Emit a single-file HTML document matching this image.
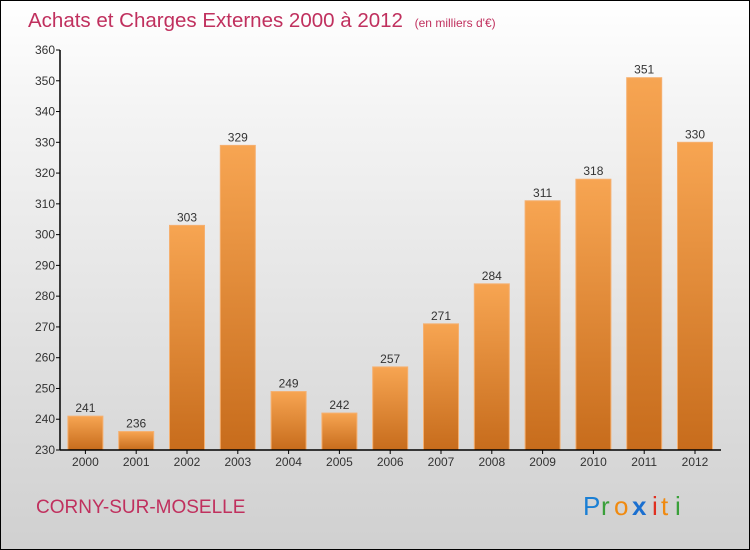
<!DOCTYPE html>
<html><head><meta charset="utf-8"><style>
html,body{margin:0;padding:0}
body{width:750px;height:550px;overflow:hidden;font-family:"Liberation Sans",sans-serif}
#frame{position:absolute;left:0;top:0;width:748px;height:548px;border:1px solid #000;background:linear-gradient(#ffffff,#f4f4f4 20%,#d0d0d0)}
</style></head><body>
<div id="frame">
<svg width="750" height="550" style="position:absolute;left:-1px;top:-1px" id="chart">
<defs><linearGradient id="bg" x1="0" y1="0" x2="0" y2="1"><stop offset="0" stop-color="#f7a552"/><stop offset="1" stop-color="#c76c1c"/></linearGradient></defs>
<text x="28" y="27" font-size="20.5" fill="#c0305e">Achats et Charges Externes 2000 à 2012 <tspan font-size="12" dx="6">(en milliers d'€)</tspan></text>
<text x="36" y="513" font-size="19" fill="#c0305e">CORNY-SUR-MOSELLE</text>
<g font-size="26">
<text x="583" y="515" fill="#1a7fd4">P</text><text x="601" y="515" fill="#3aa03a">r</text><text x="614" y="515" fill="#f08a10">o</text><text x="632" y="515" fill="#1a6fd0" font-weight="bold">x</text><text x="652" y="515" fill="#e03020">i</text><text x="661" y="515" fill="#f08a10">t</text><text x="675" y="515" fill="#3aa03a">i</text>
</g>
<g id="bars"></g><g id="axes"></g>
</svg></div>
<script>
const categories=["2000","2001","2002","2003","2004","2005","2006","2007","2008","2009","2010","2011","2012"];
const values=[241,236,303,329,249,242,257,271,284,311,318,351,330];
const ticks=[230,240,250,260,270,280,290,300,310,320,330,340,350,360];
const NS="http://www.w3.org/2000/svg";
const x0=60,slot=50.8,yBase=450,yTop=50,vMin=230,vMax=360;
const y=v=>yBase-(v-vMin)/(vMax-vMin)*(yBase-yTop);
const bars=document.getElementById('bars'),axes=document.getElementById('axes');
function mk(t,a,p){const e=document.createElementNS(NS,t);for(const k in a)e.setAttribute(k,a[k]);p.appendChild(e);return e;}
categories.forEach((c,i)=>{
 const cx=x0+slot*(i+0.5);
 const r=mk('rect',{x:cx-17.5,y:y(values[i]),width:35,height:yBase-y(values[i]),fill:'url(#bg)',stroke:'#f5b070','stroke-width':1},bars);
 
 
 const t=mk('text',{x:cx,y:y(values[i])-4,'text-anchor':'middle','font-size':12,fill:'#333'},bars);
 t.textContent=values[i];
 
 
 const l=mk('text',{x:cx,y:466,'text-anchor':'middle','font-size':12,fill:'#333'},axes);
 l.textContent=c;
 
 
 mk('line',{x1:cx,x2:cx,y1:450,y2:454,stroke:'#000'},axes);
});
ticks.forEach(v=>{
 mk('line',{x1:56,x2:60,y1:y(v),y2:y(v),stroke:'#000'},axes);
 const t=mk('text',{x:55,y:y(v)+4,'text-anchor':'end','font-size':12,fill:'#333'},axes);
 t.textContent=v;
 
 
});
const ya=mk('line',{x1:60,x2:60,y1:50,y2:450,stroke:'#000','stroke-width':1.5},axes);


const xa=mk('line',{x1:60,x2:721,y1:450,y2:450,stroke:'#000','stroke-width':1.5},axes);


</script>
</body></html>
